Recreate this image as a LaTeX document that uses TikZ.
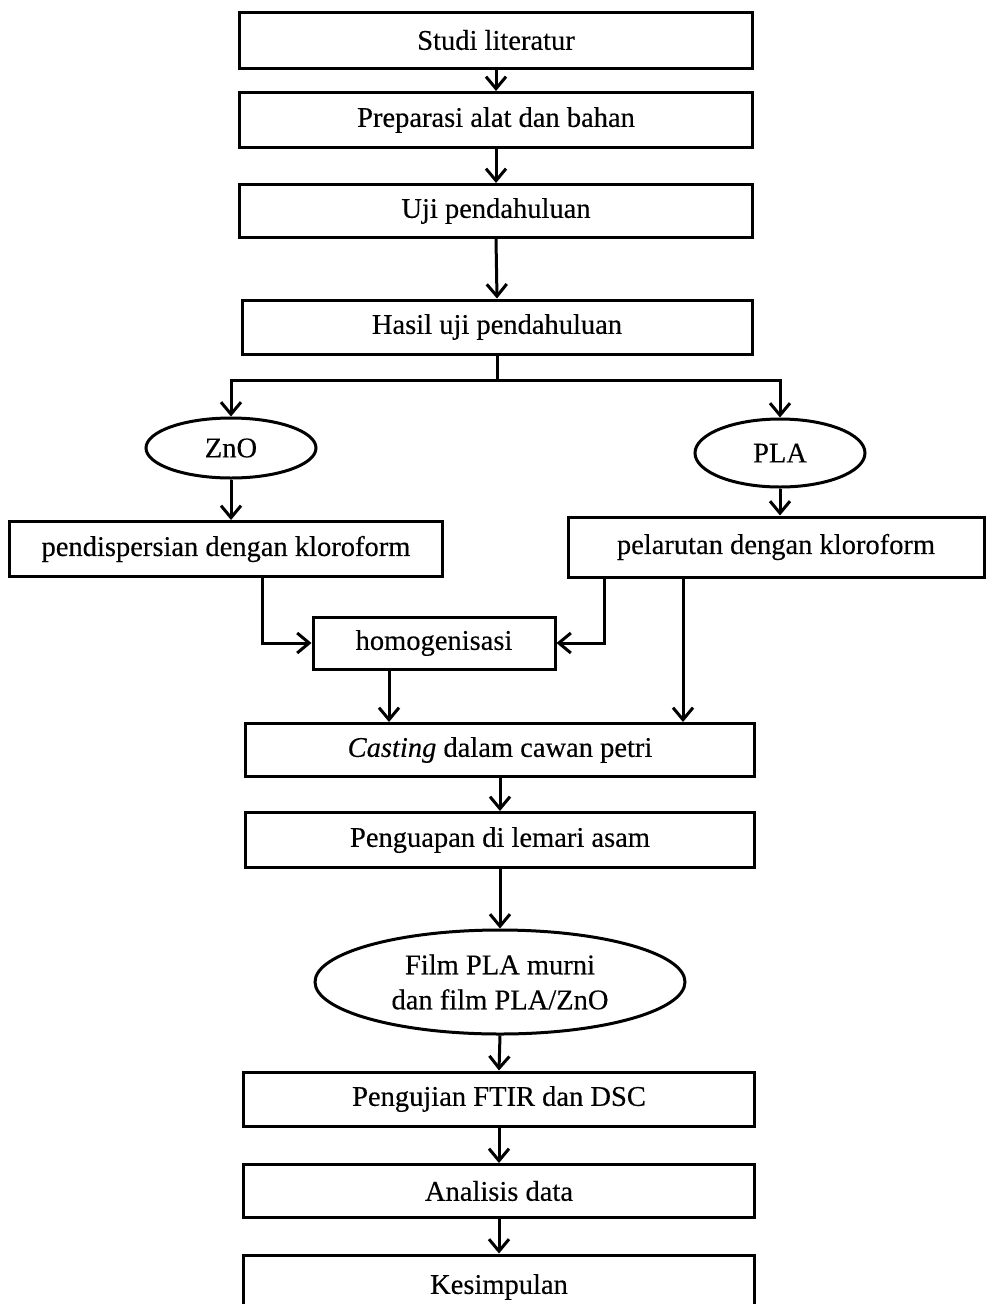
\documentclass[tikz,border=0pt]{standalone}
\usepackage{fontspec}
\setmainfont{Liberation Serif}[FakeBold=0.3]
\usetikzlibrary{arrows.meta,shapes.geometric}
\begin{document}
\begin{tikzpicture}[x=1pt,y=-1pt,
  every node/.style={font=\fontsize{28.5}{35}\selectfont},
  stepbox/.style={draw, line width=3pt, rectangle, inner sep=0pt, align=center},
  oval/.style={draw, line width=3pt, ellipse, inner sep=0pt, align=center},
  arr/.style={line width=3pt, -{Straight Barb[length=12pt,width=20pt,line width=3pt]}},
  ln/.style={line width=3pt}]
\useasboundingbox (0,0) rectangle (986,1304);
\clip (0,0) rectangle (986,1304);
\fill[white] (0,0) rectangle (986,1304);
\node[stepbox, minimum width=513, minimum height=56] (s1) at (496,40) {Studi literatur};
\node[stepbox, minimum width=513, minimum height=55] (s2) at (496,120) {Preparasi alat dan bahan};
\node[stepbox, minimum width=513, minimum height=53] (s3) at (496,211) {Uji pendahuluan};
\node[stepbox, minimum width=510, minimum height=54] (s4) at (497,327) {Hasil uji pendahuluan};
\node[oval, minimum width=170, minimum height=60] (zno) at (231,448) {ZnO};
\node[oval, minimum width=170, minimum height=68] (pla) at (780,453) {PLA};
\node[stepbox, minimum width=433, minimum height=55] (disp) at (226,549) {pendispersian dengan kloroform};
\node[stepbox, minimum width=416, minimum height=60] (lar) at (776,547) {pelarutan dengan kloroform};
\node[stepbox, minimum width=242, minimum height=52] (homog) at (434,643) {homogenisasi};
\node[stepbox, minimum width=509, minimum height=53] (cast) at (500,750) {\textit{Casting} dalam cawan petri};
\node[stepbox, minimum width=509, minimum height=55] (uap) at (500,840) {Penguapan di lemari asam};
\node[oval, minimum width=370, minimum height=104] (film) at (500,982) {Film PLA murni\\dan film PLA/ZnO};
\node[stepbox, minimum width=511, minimum height=54] (uji) at (499,1099) {Pengujian FTIR dan DSC};
\node[stepbox, minimum width=511, minimum height=53] (anal) at (499,1191) {Analisis data};
\node[stepbox, minimum width=511, minimum height=64] (kes) at (499,1287) {Kesimpulan};
\coordinate (br) at (497,380);
\draw[arr] (s1.south) -- (s2.north);
\draw[arr] (s2.south) -- (s3.north);
\draw[arr] (s3.south) -- (s4.north);
\draw[ln] (s4.south) -- (br);
\draw[arr] (br) -| (zno.north);
\draw[arr] (br) -| (pla.north);
\draw[arr] (zno.south) -- (zno.south |- disp.north);
\draw[arr] (pla.south) -- (pla.south |- lar.north);
\draw[arr] ([xshift=36]disp.south) |- (homog.west);
\draw[arr] ([xshift=-172]lar.south) |- (homog.east);
\draw[arr] ([xshift=-93]lar.south) -- ([xshift=-93]lar.south |- cast.north);
\draw[arr] ([xshift=-45]homog.south) -- ([xshift=-45]homog.south |- cast.north);
\draw[arr] (cast.south) -- (uap.north);
\draw[arr] (uap.south) -- (film.north);
\draw[arr] (film.south) -- (uji.north);
\draw[arr] (uji.south) -- (anal.north);
\draw[arr] (anal.south) -- (kes.north);
\end{tikzpicture}
\end{document}
